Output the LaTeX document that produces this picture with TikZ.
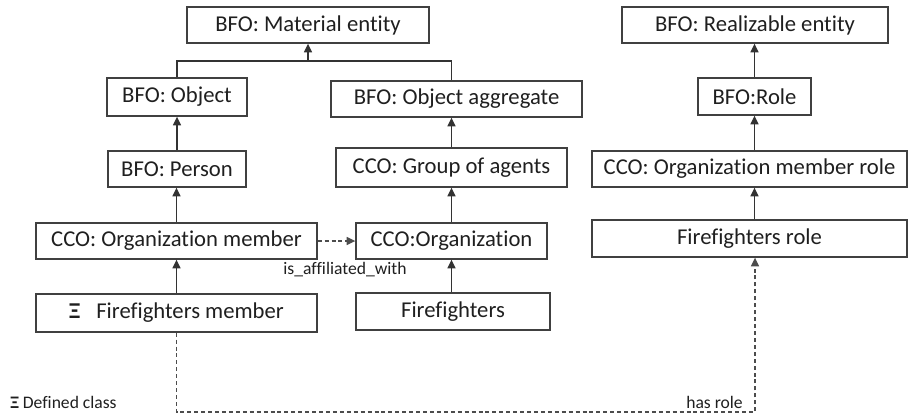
\documentclass[tikz,border=0pt]{standalone}
\usepackage{fontspec}
\setmainfont{Carlito}[Ligatures={NoCommon}]
\usetikzlibrary{arrows.meta}
\begin{document}
\begin{tikzpicture}[x=0.75pt,y=-0.75pt,
  box/.style={draw=black!75,line width=1pt,rectangle,inner sep=0pt,text=black!88,
    font=\fontsize{17}{20}\selectfont},
  conn/.style={draw=black!80,line width=1pt},
  arr/.style={conn,-{Triangle[width=6pt,length=6.5pt]}},
  darr/.style={draw=black!70,line width=1pt,dash pattern=on 3pt off 2.2pt,-{Triangle[width=6pt,length=6.5pt]}},
  small/.style={text=black!88,inner sep=0pt,font=\fontsize{13.2}{15}\selectfont}]
\useasboundingbox (0,0) rectangle (909,414);
% left / middle hierarchy
\node[box,minimum width=242*0.75pt,minimum height=36*0.75pt] (mat) at (308,25) {BFO: Material entity};
\node[box,minimum width=140*0.75pt,minimum height=38*0.75pt] (obj) at (177,97) {BFO: Object};
\node[box,minimum width=251*0.75pt,minimum height=36*0.75pt] (agg) at (456.5,99) {BFO: Object aggregate};
\node[box,minimum width=138*0.75pt,minimum height=36*0.75pt] (person) at (177,169) {BFO: Person};
\node[box,minimum width=231*0.75pt,minimum height=39*0.75pt] (grp) at (451.5,167.5) {CCO: Group of agents};
\node[box,minimum width=281*0.75pt,minimum height=36*0.75pt] (orgm) at (176.5,241) {CCO: Organization member};
\node[box,minimum width=191*0.75pt,minimum height=36*0.75pt] (org) at (451.5,241) {CCO:Organization};
\node[box,minimum width=281*0.75pt,minimum height=38*0.75pt] (ffm) at (176.5,313) {\textbf{Ξ}\hspace{12pt}Firefighters member};
\node[box,minimum width=194*0.75pt,minimum height=37*0.75pt] (ff) at (453,311.5) {Firefighters};
% right hierarchy
\node[box,minimum width=266*0.75pt,minimum height=36*0.75pt] (real) at (755,25) {BFO: Realizable entity};
\node[box,minimum width=113*0.75pt,minimum height=37*0.75pt] (role) at (754.5,96.5) {BFO:Role};
\node[box,minimum width=315*0.75pt,minimum height=36*0.75pt] (orgrole) at (749.5,169) {CCO: Organization member role};
\node[box,minimum width=315*0.75pt,minimum height=37*0.75pt] (ffrole) at (749.5,238.5) {Firefighters role};
% subclass connectors
\coordinate (j) at (308,61);
\draw[conn] (obj.north) |- (j) -| (agg.north -| grp.north);
\draw[arr] (j) -- (mat.south);
\draw[arr] (person.north) -- (person.north |- obj.south);
\draw[arr] (grp.north) -- (grp.north |- agg.south);
\draw[arr] (orgm.north) -- (orgm.north |- person.south);
\draw[arr] (org.north) -- (org.south |- grp.south);
\draw[arr] (ffm.north) -- (orgm.south);
\draw[arr] (org.south |- ff.north) -- (org.south);
\draw[arr] (role.north) -- (role.north |- real.south);
\draw[arr] (role.south |- orgrole.north) -- (role.south);
\draw[arr] (role.south |- ffrole.north) -- (role.south |- orgrole.south);
% relations
\draw[darr] (orgm.east) -- (org.west);
\node[small,anchor=base] (aff) at (345,274) {is\_affiliated\_with};
\coordinate (hr) at (755,412);
\draw[darr] (ffm.south) |- (hr) -- (hr |- ffrole.south);
\node[small,anchor=base east] (hasrole) at (743,408) {has role};
% legend
\node[small,anchor=base west] (legend) at (10,408) {\textbf{Ξ} Defined class};
\end{tikzpicture}
\end{document}
